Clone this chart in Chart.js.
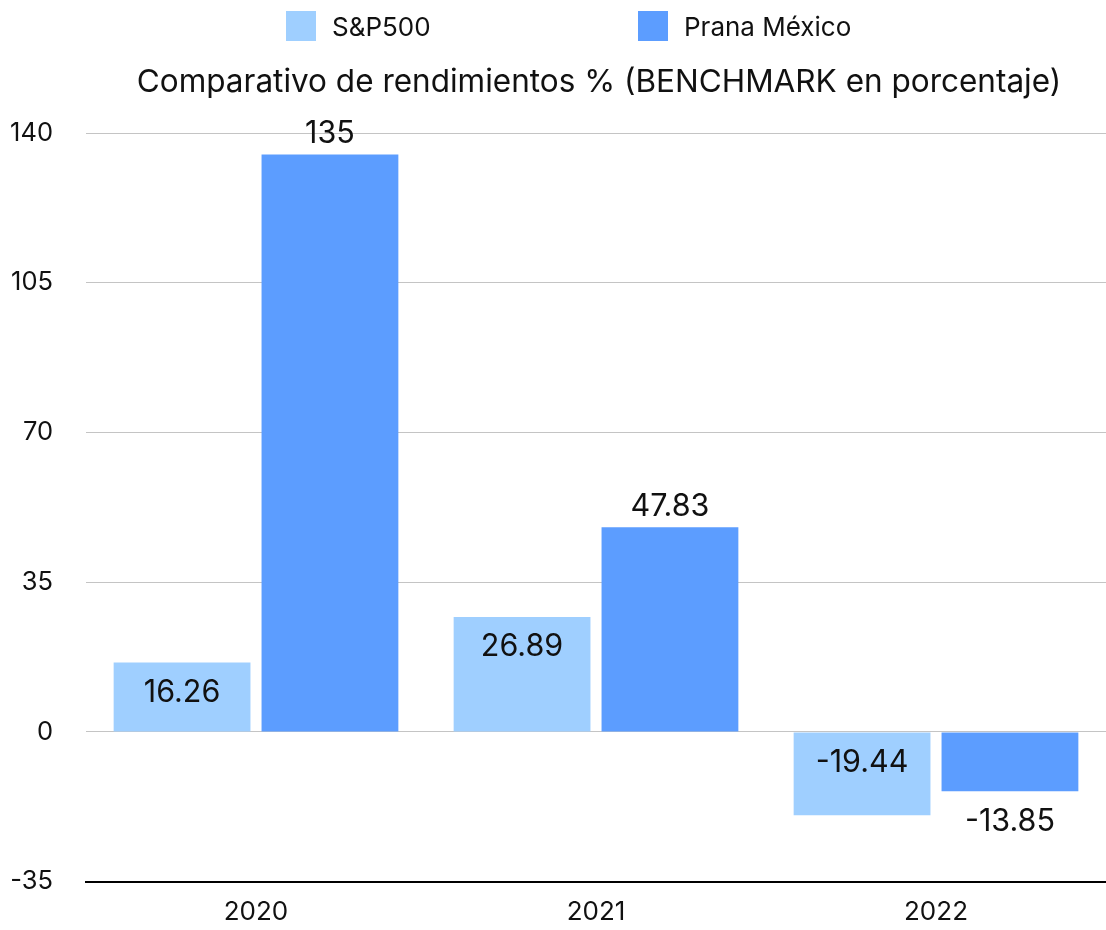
<!DOCTYPE html>
<html>
<head>
<meta charset="utf-8">
<script src="https://cdn.jsdelivr.net/npm/chart.js@4.4.0/dist/chart.umd.min.js"></script>
<style>
  html, body { margin: 0; padding: 0; background: #fff; }
  #wrap { width: 1106px; height: 930px; }
</style>
</head>
<body>
<div id="wrap"><canvas id="benchChart"></canvas></div>
<script>
// Data
const years = ['2020', '2021', '2022'];
const sp500 = [16.26, 26.89, -19.44];
const prana = [135, 47.83, -13.85];
const seriesNames = ['S&P500', 'Prana México'];
const yTicks = [-35, 0, 35, 70, 105, 140];
const chartTitle = 'Comparativo de rendimientos % (BENCHMARK en porcentaje)';

const FONT = 'Inter, "Noto Sans", sans-serif';
const colors = ['#9fcfff', '#5c9dff'];

// title + legend drawn by hand so they sit where the reference has them
const headerPlugin = {
    id: 'header',
    afterDraw(chart) {
        const ctx = chart.ctx;
        ctx.save();
        ctx.textBaseline = 'middle';
        ctx.fillStyle = '#111';
        ctx.font = '31.5px ' + FONT;
        ctx.textAlign = 'center';
        ctx.fillText(chartTitle, 599, 83);

        ctx.font = '26px ' + FONT;
        ctx.textAlign = 'left';
        const legendX = [286, 638];
        seriesNames.forEach((name, i) => {
            ctx.fillStyle = colors[i];
            ctx.fillRect(legendX[i], 11, 30, 30);
            ctx.fillStyle = '#111';
            ctx.fillText(name, legendX[i] + 46, 28);
        });
        ctx.restore();
    }
};

// value labels: S&P inside the upper edge, Prana outside the bar end
const labelPlugin = {
    id: 'barLabels',
    afterDatasetsDraw(chart) {
        const ctx = chart.ctx;
        ctx.save();
        ctx.font = '30.5px ' + FONT;
        ctx.fillStyle = '#111';
        ctx.textAlign = 'center';
        ctx.textBaseline = 'middle';
        chart.data.datasets.forEach((ds, di) => {
            chart.getDatasetMeta(di).data.forEach((bar, i) => {
                const v = ds.data[i];
                const top = Math.min(bar.y, bar.base);
                const bottom = Math.max(bar.y, bar.base);
                let y;
                if (di === 0) {
                    y = top + 30;
                } else {
                    y = v >= 0 ? top - 21 : bottom + 31;
                }
                ctx.fillText(String(v), bar.x, y);
            });
        });
        ctx.restore();
    }
};

new Chart(document.getElementById('benchChart'), {
    type: 'bar',
    data: {
        labels: years,
        datasets: [
            { label: seriesNames[0], data: sp500, backgroundColor: colors[0] },
            { label: seriesNames[1], data: prana, backgroundColor: colors[1] }
        ]
    },
    options: {
        responsive: true,
        maintainAspectRatio: false,
        animation: false,
        layout: { padding: { top: 133, right: -8, bottom: 0, left: 0 } },
        datasets: {
            bar: { categoryPercentage: 0.87, barPercentage: 0.925 }
        },
        plugins: {
            legend: { display: false },
            title: { display: false },
            tooltip: { enabled: false }
        },
        scales: {
            x: {
                afterFit: s => { s.height = 47; },
                grid: { display: false, drawTicks: false },
                border: { display: true, color: '#000', width: 2 },
                ticks: { color: '#111', font: { family: FONT, size: 26 }, padding: 15 }
            },
            y: {
                min: -35,
                max: 140,
                afterFit: s => { s.width = 86; },
                afterBuildTicks: s => { s.ticks = yTicks.map(v => ({ value: v })); },
                grid: { color: '#c4c4c4', lineWidth: 1, drawTicks: false },
                border: { display: false },
                ticks: { color: '#111', font: { family: FONT, size: 25.5 }, padding: 33 }
            }
        }
    },
    plugins: [headerPlugin, labelPlugin]
});
</script>
</body>
</html>
